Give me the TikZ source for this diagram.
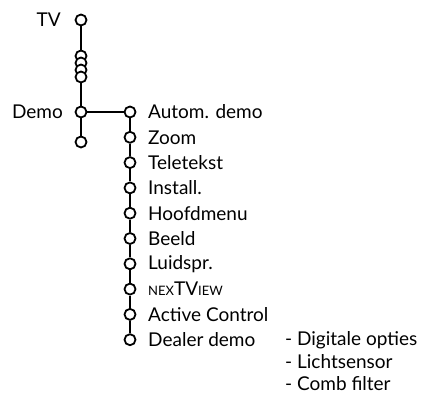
\documentclass[tikz,border=0pt]{standalone}
\usepackage{fontspec}
\setmainfont{Lato}
\begin{document}
\begin{tikzpicture}[x=1pt,y=-1pt,
        knop/.style={circle,draw,fill=white,line width=1.8pt,minimum size=11pt,inner sep=0pt},
        tekst/.style={anchor=west,inner sep=0pt,font=\fontsize{19}{21}\selectfont},
        lijn/.style={line width=1.6pt}]
        \useasboundingbox (0,0) rectangle (425,395);
        \def\xa{81} \def\xb{130}
        \def\dy{25.3}

        % linker kolom
        \node[knop] (tv) at (\xa,20) {};
        \node[tekst,anchor=east] (tvt) at (61,20) {TV};
        \node[knop] (s1) at (\xa,56) {};
        \node[knop] (s2) at (\xa,63) {};
        \node[knop] (s3) at (\xa,70) {};
        \node[knop] (s4) at (\xa,77) {};
        \node[knop] (demo) at (\xa,112) {};
        \node[tekst,anchor=east] (demot) at (63,112) {Demo};
        \node[knop] (laag) at (\xa,142) {};
        \draw[lijn] (tv) -- (s1);
        \draw[lijn] (s4) -- (demo);
        \draw[lijn] (demo) -- (laag);

        % rechter kolom
        \foreach \i/\t in {1/Autom. demo,2/Zoom,3/Teletekst,4/Install.,5/Hoofdmenu,
                6/Beeld,7/Luidspr.,8/{{\fontsize{13}{14}\selectfont NEX}TV{\fontsize{13}{14}\selectfont IEW}},
                9/Active Control,10/Dealer demo}{
                \node[knop] (r\i) at (\xb,{112+(\i-1)*\dy}) {};
                \node[tekst] (t\i) at (148,{112+(\i-1)*\dy}) {\t};
        }
        \draw[lijn] (demo) -- (r1);
        \foreach \i [count=\j from 2] in {1,...,9}
                \draw[lijn] (r\i) -- (r\j);

        % opties dealer demo
        \node[tekst] (o1) at (285,340) {- Digitale opties};
        \node[tekst] (o2) at (285,362) {- Lichtsensor};
        \node[tekst] (o3) at (285,384) {- Comb filter};
\end{tikzpicture}
\end{document}
